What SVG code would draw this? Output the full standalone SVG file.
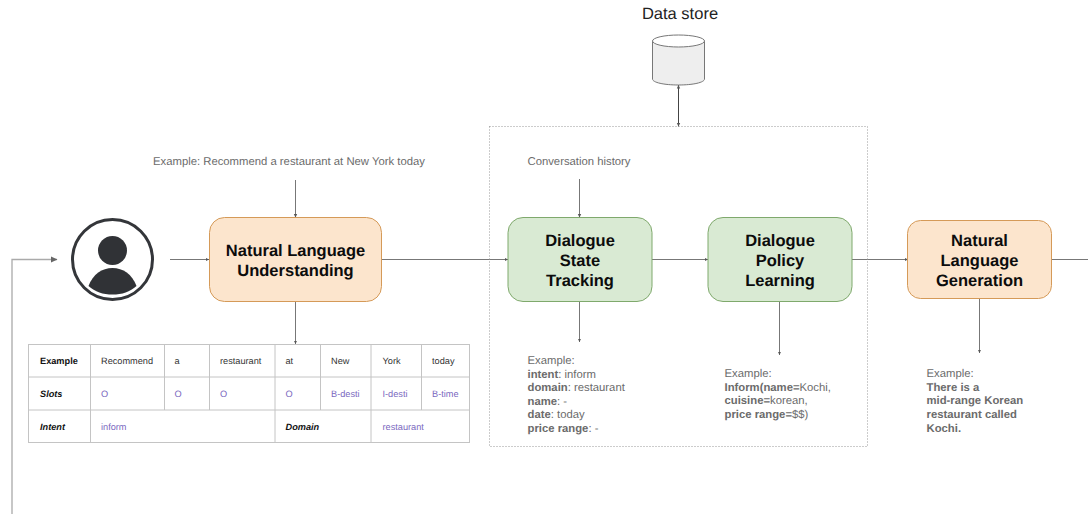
<svg xmlns="http://www.w3.org/2000/svg" width="1088" height="514" viewBox="0 0 1088 514">
<defs>
<marker id="a" markerUnits="userSpaceOnUse" markerWidth="5" markerHeight="5" refX="3.500" refY="2.500" orient="auto-start-reverse"><path d="M0 0.800L3.500 2.500L0 4.200Z" fill="#555"/></marker>
</defs>
<style>
text{font-family:"Liberation Sans",Arial,sans-serif;text-rendering:geometricPrecision}
.c{fill:none;stroke:#777;stroke-width:1}
.title{font-size:16.500px;font-weight:bold;fill:#0c0c0c;text-anchor:middle}
.note{font-size:11.300px;fill:#6b6b6b}
.b{font-weight:bold}
.t{font-size:9.200px;fill:#333}
.p{font-size:9.200px;fill:#7a68c0}
.h{font-size:9.200px;fill:#111;font-weight:bold}
.i{font-style:italic}
.grid{fill:none;stroke:#c4c4c4;stroke-width:1}
.or{fill:#fce5cd;stroke:#d59a58;stroke-width:1}
.gr{fill:#d9ead3;stroke:#7fa96c;stroke-width:1}
</style>
<rect width="1088" height="514" fill="#fff"/>
<g id="connectors">
<path class="c" d="M12 514V259.500H57" style="stroke:#aaa;stroke-width:1.300"/>
<path d="M51 256.500L57.500 259.500L51 262.500Z" fill="#666"/>
<path class="c" marker-end="url(#a)" d="M170 259.500H209"/>
<path class="c" marker-end="url(#a)" d="M295.500 180V217.500"/>
<path class="c" marker-end="url(#a)" d="M295.500 302V344"/>
<path class="c" marker-end="url(#a)" d="M382 259.500H508"/>
<path class="c" marker-end="url(#a)" d="M579.500 179V217.500"/>
<path class="c" marker-end="url(#a)" d="M579.500 302V342"/>
<path class="c" marker-end="url(#a)" d="M652 259.500H708"/>
<path class="c" marker-end="url(#a)" d="M779.500 302V355"/>
<path class="c" marker-end="url(#a)" d="M852 259.500H908"/>
<path class="c" marker-end="url(#a)" d="M979.500 298V353"/>
<path class="c" d="M1051 259.500H1088"/>
<path class="c" marker-start="url(#a)" marker-end="url(#a)" d="M678.500 85V126.500" style="stroke:#444"/>
</g>
<g id="boundary"><rect x="489.500" y="126.500" width="378" height="320" fill="none" stroke="#999" stroke-width="1" stroke-dasharray="1 2"/></g>
<g id="data-store">
<path d="M652.500 41V79C652.500 82.500 664 85 678.500 85S704.500 82.500 704.500 79V41Z" fill="#eee" stroke="#777"/>
<ellipse cx="678.500" cy="41" rx="26" ry="6" fill="#fff" stroke="#777"/>
<text x="680" y="18.500" text-anchor="middle" style="font-size:16.500px;fill:#222">Data store</text>
</g>
<g id="user">
<circle cx="112.500" cy="259.500" r="40" fill="#fff" stroke="#34363a" stroke-width="3"/>
<circle cx="112.500" cy="250.500" r="14.500" fill="#303236"/>
<path d="M88.500 286C93 274 102 268 112.500 268S132 274 136.500 286C130 292 122 294.500 112.500 294.500S95 292 88.500 286Z" fill="#303236"/>
</g>
<g id="nlu">
<rect class="or" x="209.500" y="217.500" width="172" height="84" rx="15"/>
<text class="title" x="295.500" y="256">Natural Language</text>
<text class="title" x="295.500" y="276">Understanding</text>
</g>
<text id="nlu-example" class="note" x="153" y="165">Example: Recommend a restaurant at New York today</text>
<g id="dst">
<rect class="gr" x="508" y="217.500" width="144" height="84" rx="15"/>
<text class="title" x="580" y="246">Dialogue</text>
<text class="title" x="580" y="266">State</text>
<text class="title" x="580" y="286">Tracking</text>
</g>
<g id="dpl">
<rect class="gr" x="708" y="217.500" width="144" height="84" rx="15"/>
<text class="title" x="780" y="246">Dialogue</text>
<text class="title" x="780" y="266">Policy</text>
<text class="title" x="780" y="286">Learning</text>
</g>
<g id="nlg">
<rect class="or" x="907.500" y="220.500" width="144" height="78" rx="13"/>
<text class="title" x="979.500" y="246">Natural</text>
<text class="title" x="979.500" y="266">Language</text>
<text class="title" x="979.500" y="286">Generation</text>
</g>
<text id="history" class="note" x="527.500" y="165">Conversation history</text>
<g id="dst-example" class="note">
<text x="527.500" y="364">Example:</text>
<text x="527.500" y="377.500"><tspan class="b">intent</tspan>: inform</text>
<text x="527.500" y="391"><tspan class="b">domain</tspan>: restaurant</text>
<text x="527.500" y="404.500"><tspan class="b">name</tspan>: -</text>
<text x="527.500" y="418"><tspan class="b">date</tspan>: today</text>
<text x="527.500" y="432"><tspan class="b">price range</tspan>: -</text>
</g>
<g id="dpl-example" class="note">
<text x="724.500" y="377">Example:</text>
<text x="724.500" y="390.500"><tspan class="b">Inform(name=</tspan>Kochi,</text>
<text x="724.500" y="404"><tspan class="b">cuisine=</tspan>korean,</text>
<text x="724.500" y="418"><tspan class="b">price range=</tspan>$$)</text>
</g>
<g id="nlg-example" class="note">
<text x="926.500" y="377">Example:</text>
<text class="b" x="926.500" y="390.500">There is a</text>
<text class="b" x="926.500" y="404">mid-range Korean</text>
<text class="b" x="926.500" y="418">restaurant called</text>
<text class="b" x="926.500" y="431.500">Kochi.</text>
</g>
<g id="table">
<rect class="grid" x="28.500" y="344.500" width="441" height="98"/>
<path class="grid" d="M28.500 377H469.500M28.500 410H469.500M90.500 344.500V442.500M164.500 344.500V410M209.500 344.500V410M275 344.500V442.500M320.500 344.500V410M371 344.500V442.500M421.500 344.500V410"/>
<text class="h" x="40" y="364">Example</text>
<text class="t" x="101" y="364">Recommend</text>
<text class="t" x="174.500" y="364">a</text>
<text class="t" x="220" y="364">restaurant</text>
<text class="t" x="285.500" y="364">at</text>
<text class="t" x="331" y="364">New</text>
<text class="t" x="382.500" y="364">York</text>
<text class="t" x="432" y="364">today</text>
<text class="h i" x="40" y="397">Slots</text>
<text class="p" x="101" y="397">O</text>
<text class="p" x="174.500" y="397">O</text>
<text class="p" x="220" y="397">O</text>
<text class="p" x="285.500" y="397">O</text>
<text class="p" x="331" y="397">B-desti</text>
<text class="p" x="382.500" y="397">I-desti</text>
<text class="p" x="432" y="397">B-time</text>
<text class="h i" x="40" y="430">Intent</text>
<text class="p" x="101" y="430">inform</text>
<text class="h i" x="285.500" y="430">Domain</text>
<text class="p" x="382.500" y="430">restaurant</text>
</g>
</svg>
